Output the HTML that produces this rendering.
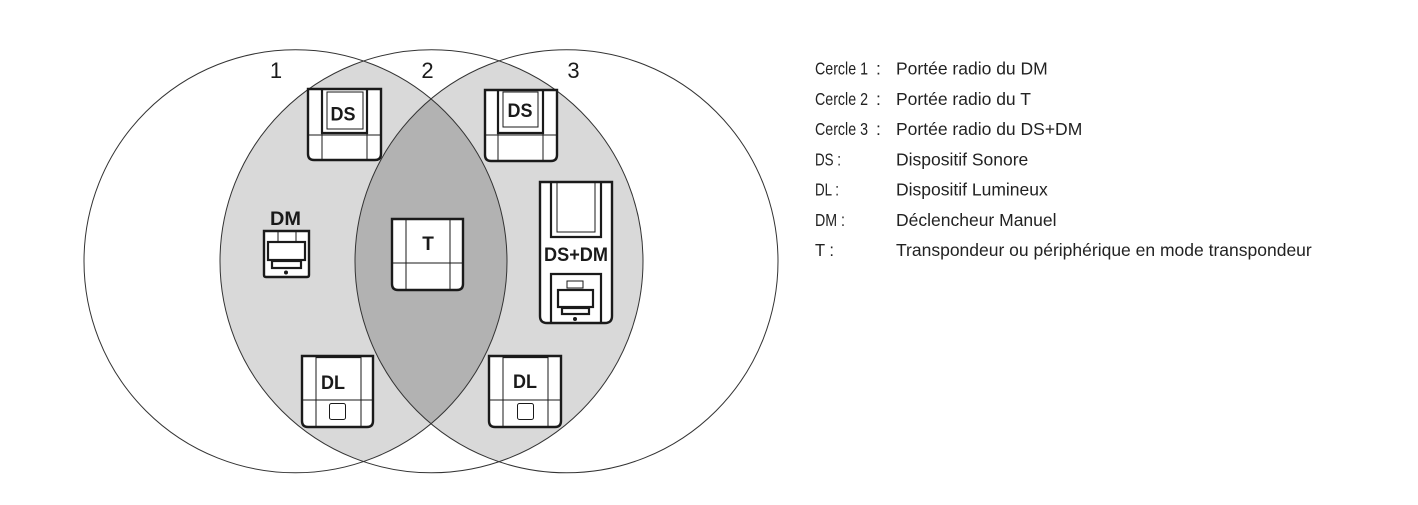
<!DOCTYPE html>
<html><head><meta charset="utf-8"><style>
html,body{margin:0;padding:0;background:#fff;}
svg{display:block;}
.lg{font-family:"Liberation Sans",sans-serif;font-size:17.5px;fill:#222;}
.dv{font-family:"Liberation Sans",sans-serif;font-weight:bold;fill:#1a1a1a;}
.th{fill:none;stroke:#1a1a1a;stroke-width:1;}
.tk{fill:none;stroke:#1a1a1a;stroke-width:2.2;}
.ot{fill:#fff;stroke:#1a1a1a;stroke-width:2.4;}
</style></head><body>
<svg width="1418" height="505" viewBox="0 0 1418 505" xmlns="http://www.w3.org/2000/svg">
<defs>
<clipPath id="c1"><circle cx="295.5" cy="261.3" r="211.5"/></clipPath>
<clipPath id="c2"><circle cx="431.5" cy="261.3" r="211.5"/></clipPath>
</defs>
<!-- shading -->
<g clip-path="url(#c2)">
<circle cx="295.5" cy="261.3" r="211.5" fill="#d9d9d9"/>
<circle cx="566.5" cy="261.3" r="211.5" fill="#d9d9d9"/>
</g>
<g clip-path="url(#c1)">
<circle cx="566.5" cy="261.3" r="211.5" fill="#b2b2b2"/>
</g>
<!-- circle outlines -->
<circle cx="295.5" cy="261.3" r="211.5" fill="none" stroke="#333" stroke-width="1"/>
<circle cx="431.5" cy="261.3" r="211.5" fill="none" stroke="#333" stroke-width="1"/>
<circle cx="566.5" cy="261.3" r="211.5" fill="none" stroke="#333" stroke-width="1"/>
<!-- circle labels -->
<text x="276" y="78" font-family="Liberation Sans, sans-serif" font-size="22" text-anchor="middle" fill="#1a1a1a">1</text>
<text x="427.5" y="78" font-family="Liberation Sans, sans-serif" font-size="22" text-anchor="middle" fill="#1a1a1a">2</text>
<text x="573.5" y="78" font-family="Liberation Sans, sans-serif" font-size="22" text-anchor="middle" fill="#1a1a1a">3</text>

<!-- DS left -->
<path class="ot" d="M308,89 H381 V154 Q381,160 375,160 H314 Q308,160 308,154 Z"/>
<line class="th" x1="322" y1="89" x2="322" y2="160"/>
<line class="th" x1="367" y1="89" x2="367" y2="160"/>
<line class="th" x1="308" y1="135" x2="381" y2="135"/>
<path class="tk" d="M322,89 V133 H367 V89"/>
<rect class="th" x="327" y="92" width="36" height="37"/>
<text class="dv" x="343" y="120.5" font-size="19" text-anchor="middle" textLength="25" lengthAdjust="spacingAndGlyphs">DS</text>

<!-- DS right -->
<path class="ot" d="M485,90 H557 V155 Q557,161 551,161 H491 Q485,161 485,155 Z"/>
<line class="th" x1="498" y1="90" x2="498" y2="161"/>
<line class="th" x1="543" y1="90" x2="543" y2="161"/>
<line class="th" x1="485" y1="135" x2="557" y2="135"/>
<path class="tk" d="M498,90 V133 H543 V90"/>
<rect class="th" x="503" y="92" width="35" height="35"/>
<text class="dv" x="520" y="117" font-size="19" text-anchor="middle" textLength="25" lengthAdjust="spacingAndGlyphs">DS</text>

<!-- T -->
<path class="ot" d="M392,219 H463 V284 Q463,290 457,290 H398 Q392,290 392,284 Z"/>
<line class="th" x1="406" y1="219" x2="406" y2="290"/>
<line class="th" x1="450" y1="219" x2="450" y2="290"/>
<line class="th" x1="392" y1="263" x2="463" y2="263"/>
<text class="dv" x="428" y="250" font-size="19" text-anchor="middle">T</text>

<!-- DL left -->
<path class="ot" d="M302,356 H373 V421 Q373,427 367,427 H308 Q302,427 302,421 Z"/>
<line class="th" x1="316" y1="356" x2="316" y2="427"/>
<line class="th" x1="361" y1="356" x2="361" y2="427"/>
<line class="tk" x1="316" y1="357" x2="361" y2="357"/>
<line class="th" x1="302" y1="400" x2="373" y2="400"/>
<rect class="th" x="329.5" y="403.5" width="16" height="16" rx="2" stroke-width="1.3"/>
<text class="dv" x="333" y="389" font-size="19" text-anchor="middle" textLength="24" lengthAdjust="spacingAndGlyphs">DL</text>

<!-- DL right -->
<path class="ot" d="M489,356 H561 V421 Q561,427 555,427 H495 Q489,427 489,421 Z"/>
<line class="th" x1="503" y1="356" x2="503" y2="427"/>
<line class="th" x1="548" y1="356" x2="548" y2="427"/>
<line class="tk" x1="503" y1="357" x2="548" y2="357"/>
<line class="th" x1="489" y1="400" x2="561" y2="400"/>
<rect class="th" x="517.5" y="403.5" width="16" height="16" rx="2" stroke-width="1.3"/>
<text class="dv" x="525" y="388" font-size="19" text-anchor="middle" textLength="24" lengthAdjust="spacingAndGlyphs">DL</text>

<!-- DM left -->
<text class="dv" x="285.5" y="225" font-size="19" text-anchor="middle" textLength="31" lengthAdjust="spacingAndGlyphs">DM</text>
<path class="ot" d="M264,231 H309 V275 Q309,277 307,277 H266 Q264,277 264,275 Z" stroke-width="2.2"/>
<rect class="th" x="278" y="231" width="18" height="11"/>
<rect class="tk" x="268" y="242" width="37" height="18" stroke-width="2"/>
<rect class="tk" x="272" y="261" width="29" height="7" stroke-width="1.8"/>
<circle cx="286" cy="272.5" r="2" fill="#1a1a1a"/>

<!-- DS+DM -->
<path class="ot" d="M540,182 H612 V316 Q612,323 605,323 H547 Q540,323 540,316 Z"/>
<path class="tk" d="M551,182 V237 H601 V182"/>
<rect class="th" x="557" y="182" width="38" height="50"/>
<text class="dv" x="576" y="261" font-size="19" text-anchor="middle" textLength="64" lengthAdjust="spacingAndGlyphs">DS+DM</text>
<path class="tk" d="M551,323 V274 H601 V323"/>
<rect class="th" x="567" y="281" width="16" height="7"/>
<rect class="tk" x="558" y="290" width="35" height="17" stroke-width="2"/>
<rect class="tk" x="562" y="308" width="27" height="6" stroke-width="1.8"/>
<circle cx="575" cy="319" r="2" fill="#1a1a1a"/>

<!-- Legend -->
<text class="lg" x="815" y="74.5" textLength="53" lengthAdjust="spacingAndGlyphs">Cercle 1</text>
<text class="lg" x="876" y="74.5">:</text>
<text class="lg" x="896" y="74.5">Portée radio du DM</text>

<text class="lg" x="815" y="104.8" textLength="53" lengthAdjust="spacingAndGlyphs">Cercle 2</text>
<text class="lg" x="876" y="104.8">:</text>
<text class="lg" x="896" y="104.8">Portée radio du T</text>

<text class="lg" x="815" y="135" textLength="53" lengthAdjust="spacingAndGlyphs">Cercle 3</text>
<text class="lg" x="876" y="135">:</text>
<text class="lg" x="896" y="135">Portée radio du DS+DM</text>

<text class="lg" x="815" y="165.3" textLength="26" lengthAdjust="spacingAndGlyphs">DS :</text>
<text class="lg" x="896" y="165.3">Dispositif Sonore</text>

<text class="lg" x="815" y="195.6" textLength="24" lengthAdjust="spacingAndGlyphs">DL :</text>
<text class="lg" x="896" y="195.6">Dispositif Lumineux</text>

<text class="lg" x="815" y="225.9" textLength="30" lengthAdjust="spacingAndGlyphs">DM :</text>
<text class="lg" x="896" y="225.9">Déclencheur Manuel</text>

<text class="lg" x="815" y="256.2" textLength="19" lengthAdjust="spacingAndGlyphs">T :</text>
<text class="lg" x="896" y="256.2">Transpondeur ou périphérique en mode transpondeur</text>
</svg>
</body></html>
